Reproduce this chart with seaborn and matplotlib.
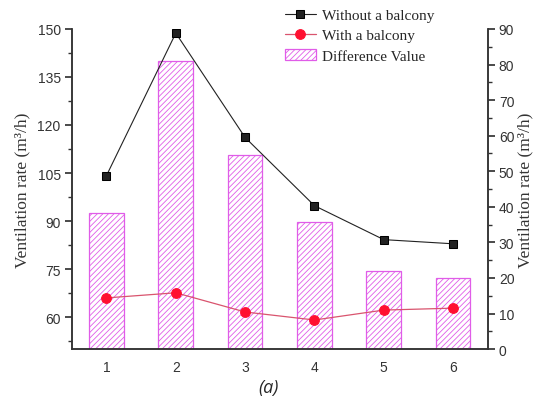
import matplotlib

matplotlib.use("Agg")
import matplotlib.pyplot as plt
import pandas as pd
import seaborn as sns
from matplotlib.ticker import MultipleLocator

cases = [1, 2, 3, 4, 5, 6]
without_balcony = [104.2, 148.7, 116.1, 94.8, 84.2, 82.9]
with_balcony = [66.0, 67.6, 61.6, 59.1, 62.2, 62.8]
difference = [38.2, 81.1, 54.5, 35.7, 22.0, 20.1]

df = pd.DataFrame({
    "case": cases,
    "without": without_balcony,
    "with": with_balcony,
    "diff": difference,
})

sns.set_theme(style="ticks")
plt.rcParams["hatch.color"] = "#d77be0"
plt.rcParams["hatch.linewidth"] = 0.6

fig = plt.figure(figsize=(5.36, 4.10), dpi=100)
ax = fig.add_axes([0.134, 0.146, 0.776, 0.781])
ax2 = ax.twinx()

# bars on the right axis
ax2.bar(df["case"], df["diff"], width=0.5, facecolor="white", edgecolor="#e05ce8",
        hatch="//////", linewidth=0.9, label="Difference Value", zorder=1)

sns.lineplot(data=df, x="case", y="without", ax=ax, color="#222222", marker="s",
             markersize=6, markeredgecolor="black", linewidth=0.8,
             label="Without a balcony", legend=False)
sns.lineplot(data=df, x="case", y="with", ax=ax, color="#d9546e", marker="o",
             markersize=7, markerfacecolor="#ff1030", markeredgecolor="#ff1030",
             linewidth=0.9, label="With a balcony", legend=False)

ax.set_zorder(ax2.get_zorder() + 1)
ax.patch.set_visible(False)

ax.set_xlim(0.5, 6.5)
ax.set_ylim(50, 150)
ax2.set_ylim(0, 90)
ax.set_xticks(cases)
ax.yaxis.set_major_locator(MultipleLocator(15))
ax.yaxis.set_minor_locator(MultipleLocator(7.5))
ax2.yaxis.set_major_locator(MultipleLocator(10))
ax2.yaxis.set_minor_locator(MultipleLocator(5))

for a in (ax, ax2):
    a.spines["top"].set_visible(False)
    for s in ("left", "right", "bottom"):
        a.spines[s].set_linewidth(1.1)
        a.spines[s].set_color("#333333")
ax.tick_params(axis="x", length=0, labelsize=10, colors="#333333", pad=8)
ax.tick_params(axis="y", which="major", length=5, labelsize=10, colors="#333333", pad=3)
ax.tick_params(axis="y", which="minor", length=3, color="#333333")
ax2.tick_params(axis="y", which="major", length=5, labelsize=10, colors="#333333", pad=3)
ax2.tick_params(axis="y", which="minor", length=3, color="#333333")
for lab in ax.get_xticklabels() + ax.get_yticklabels() + ax2.get_yticklabels():
    lab.set_fontfamily("Liberation Sans")

ylab = "Ventilation rate (m³/h)"
ax.set_xlabel("")
ax.set_ylabel(ylab, fontfamily="Liberation Serif", fontsize=12.5, color="#333333", labelpad=5)
ax2.set_ylabel(ylab, fontfamily="Liberation Serif", fontsize=12.5, color="#333333",
               rotation=90, labelpad=2)

h1, l1 = ax.get_legend_handles_labels()
h2, l2 = ax2.get_legend_handles_labels()
fig.legend(h1 + h2, l1 + l2, loc="upper left", bbox_to_anchor=(0.515, 1.0),
           frameon=False, prop={"family": "Liberation Serif", "size": 11},
           handlelength=2.0, labelspacing=0.45, handletextpad=0.4, borderaxespad=0.2)

fig.text(0.5, 0.053, "(a)", ha="center", va="center", fontsize=13, style="italic",
         fontfamily="Open Sans")

fig.savefig("out.png", dpi=100)
